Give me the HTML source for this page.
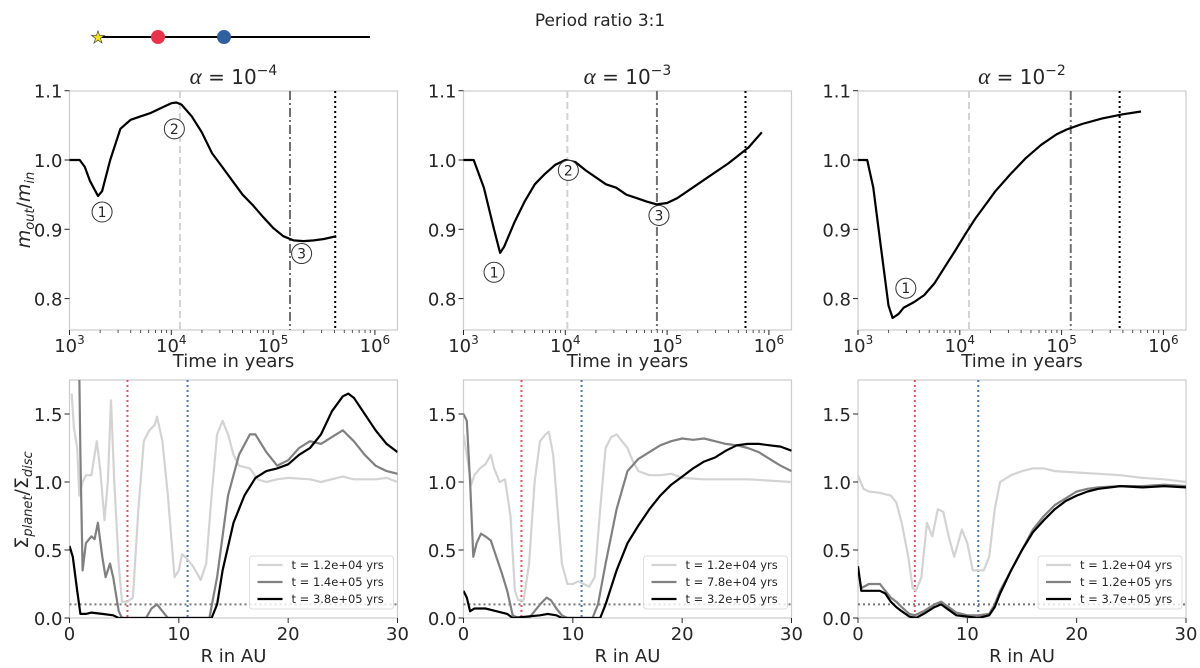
<!DOCTYPE html>
<html><head><meta charset="utf-8"><style>
body{margin:0;background:#fff;}
svg{display:block;font-family:"DejaVu Sans","Liberation Sans",sans-serif;}
</style></head><body>
<svg id="fig" width="1200" height="668" viewBox="0 0 1200 668" xmlns="http://www.w3.org/2000/svg">
<text x="600" y="26" text-anchor="middle" font-size="17" fill="#262626">Period ratio 3:1</text>
<g>
<line x1="100" y1="37" x2="370" y2="37" stroke="#000" stroke-width="2"/>
<text x="98" y="43" text-anchor="middle" font-size="17" fill="#f5e31c" stroke="#333" stroke-width="0.6">★</text>
<circle cx="158" cy="37" r="7" fill="#e8334a"/>
<circle cx="224" cy="37" r="7" fill="#2f5f9e"/>
</g>
</svg>
<script>
// ---- Top row data (log10 time, mass ratio) ----
const topLogT1=[3.0,3.1,3.15,3.2,3.28,3.32,3.4,3.5,3.6,3.7,3.8,3.9,4.0,4.05,4.1,4.2,4.3,4.4,4.5,4.6,4.7,4.8,4.9,5.0,5.1,5.2,5.3,5.4,5.5,5.62];
const topRatio1=[1.0,1.0,0.99,0.97,0.948,0.955,1.0,1.045,1.058,1.063,1.068,1.075,1.082,1.083,1.08,1.063,1.04,1.01,0.99,0.97,0.95,0.935,0.918,0.902,0.89,0.884,0.883,0.884,0.886,0.89];
const topLogT2=[3.0,3.1,3.2,3.3,3.36,3.4,3.5,3.6,3.7,3.8,3.9,4.0,4.1,4.2,4.3,4.4,4.5,4.6,4.7,4.8,4.9,5.0,5.1,5.2,5.4,5.6,5.8,5.93];
const topRatio2=[1.0,1.0,0.96,0.9,0.866,0.875,0.91,0.94,0.965,0.98,0.993,1.0,0.997,0.985,0.975,0.965,0.96,0.95,0.945,0.94,0.936,0.938,0.945,0.955,0.975,0.995,1.018,1.04];
const topLogT3=[3.0,3.09,3.15,3.22,3.3,3.34,3.4,3.45,3.55,3.65,3.75,3.85,3.95,4.05,4.15,4.25,4.35,4.5,4.65,4.8,4.95,5.05,5.2,5.4,5.6,5.78];
const topRatio3=[1.0,1.0,0.96,0.88,0.79,0.772,0.778,0.787,0.795,0.805,0.822,0.845,0.868,0.892,0.915,0.935,0.955,0.98,1.003,1.022,1.037,1.044,1.052,1.06,1.066,1.07];
const vlines1=[4.085,5.166,5.61];
const vlines2=[4.02,4.9,5.77];
const vlines3=[4.09,5.09,5.57];
const titles=["-4","-3","-2"];
// ---- Bottom row data (R in AU, surface density ratio) ----
const r1a=[0.2,0.4,0.7,0.9,1.2,1.5,2,2.5,2.8,3.2,3.5,3.8,4.1,4.5,4.8,5.3,5.8,6.3,6.8,7.3,7.8,8,8.5,9,9.6,10,10.3,10.8,11.3,12,12.5,13,13.5,14,14.5,15,15.5,16.5,17.2,18,19,20,22,23,25,26,28,29,30];
const s1a=[1.65,1.4,1.25,0.9,1.0,1.05,1.05,1.3,1.1,0.72,1.0,1.6,1.0,0.4,0.12,0.12,0.15,0.8,1.3,1.38,1.42,1.48,1.3,0.9,0.3,0.35,0.47,0.43,0.38,0.28,0.4,0.9,1.35,1.45,1.35,1.2,1.12,1.1,1.02,1.0,1.02,1.03,1.02,1.0,1.04,1.02,1.02,1.03,1.0];
const r1b=[0.9,1.0,1.2,1.5,2,2.3,2.6,3,3.3,3.7,4,4.5,4.8,7,7.5,8,8.5,9,12.8,13.5,14.5,15.5,16.5,17,18,19,20,21,22,23,24,25,26,27,28,29,30];
const s1b=[1.8,1.2,0.35,0.55,0.6,0.58,0.7,0.45,0.3,0.4,0.3,0.05,0,0,0.07,0.1,0.05,0,0,0.3,0.9,1.2,1.35,1.35,1.22,1.12,1.16,1.25,1.3,1.28,1.33,1.38,1.3,1.2,1.12,1.08,1.06];
const r1c=[0,0.3,0.7,1,1.5,2,3,4,4.5,13,13.5,14,15,16,17,18,19,20,21,22,23,24,25,25.5,26,27,28,29,30];
const s1c=[0.53,0.45,0.2,0.03,0.03,0.04,0.03,0.02,0,0,0.1,0.35,0.7,0.9,1.03,1.08,1.1,1.13,1.2,1.25,1.35,1.52,1.63,1.65,1.62,1.5,1.38,1.28,1.22];
const r2a=[0,0.3,0.7,1,1.5,2,2.5,2.8,3.3,3.8,4.3,4.7,5,5.5,6,6.5,7,7.5,7.8,8.2,8.7,9,9.5,10,10.5,11,11.5,12,12.5,13,13.5,14,14.5,15,15.5,16,17,18,19,20,22,24,26,28,30];
const s2a=[1.35,1.2,0.98,1.05,1.1,1.13,1.2,1.1,1.0,1.02,0.75,0.2,0.13,0.13,0.4,1.0,1.3,1.35,1.37,1.2,0.7,0.4,0.25,0.25,0.27,0.25,0.23,0.3,0.8,1.25,1.33,1.35,1.3,1.25,1.15,1.08,1.05,1.05,1.06,1.03,1.02,1.02,1.02,1.01,1.0];
const r2b=[0,0.3,0.6,0.9,1.2,1.6,2,2.5,3,3.5,4,4.5,5,6,6.5,7,7.6,8,8.5,9,9.5,11.8,12.3,13,14,15,16,17,18,19,20,21,22,23,24,25,26,27,28,29,30];
const s2b=[1.5,1.45,1.0,0.45,0.55,0.62,0.6,0.57,0.45,0.33,0.2,0.02,0,0,0.05,0.1,0.15,0.13,0.07,0.02,0,0,0.1,0.4,0.8,1.08,1.17,1.22,1.27,1.3,1.32,1.31,1.32,1.3,1.28,1.27,1.25,1.22,1.17,1.12,1.08];
const r2c=[0,0.3,0.6,1,2,3,4,4.5,7,7.7,8.5,9,12.5,13,14,15,16,17,18,19,20,21,22,23,24,25,26,27,28,29,30];
const s2c=[0.2,0.15,0.05,0.07,0.07,0.05,0.03,0,0.02,0.03,0.02,0,0,0.1,0.35,0.55,0.68,0.8,0.9,0.98,1.04,1.1,1.15,1.18,1.23,1.27,1.28,1.28,1.27,1.26,1.23];
const r3a=[0,0.5,1,2,3,3.5,4,4.6,5,5.3,5.8,6.3,6.8,7.3,7.8,8.3,8.8,9.5,10,10.5,11.5,12,12.5,13,14,15,16,17,18,20,22,24,26,28,30];
const s3a=[1.05,0.95,0.93,0.92,0.9,0.85,0.7,0.45,0.22,0.2,0.3,0.7,0.6,0.8,0.78,0.6,0.45,0.65,0.55,0.35,0.35,0.45,0.8,1.0,1.05,1.08,1.1,1.1,1.08,1.07,1.06,1.05,1.03,1.02,1.0];
const r3b=[0,0.3,1,2,2.5,3,3.5,4,4.7,5.2,6,7,7.6,8.3,9,10,11,12,12.5,13,14,15,16,17,18,19,20,21,22,24,26,28,30];
const s3b=[0.36,0.22,0.25,0.25,0.2,0.15,0.12,0.08,0.03,0.02,0.05,0.1,0.12,0.08,0.04,0.02,0.02,0.03,0.1,0.2,0.35,0.5,0.65,0.75,0.83,0.88,0.93,0.95,0.96,0.97,0.97,0.98,0.97];
const r3c=[0,0.3,1,2,2.5,3,3.5,4,4.7,5.3,6,7,7.6,8.3,9,10,11,12,12.5,13,14,15,16,17,18,19,20,21,22,24,26,28,30];
const s3c=[0.38,0.2,0.2,0.2,0.18,0.12,0.08,0.05,0.01,0.0,0.03,0.08,0.1,0.06,0.02,0.01,0.0,0.02,0.08,0.18,0.35,0.5,0.63,0.72,0.8,0.86,0.9,0.93,0.95,0.97,0.96,0.97,0.96];
const planetR1=[5.3,10.8], planetR2=[5.3,10.8], planetR3=[5.2,11.0];
const legend1=["t = 1.2e+04 yrs","t = 1.4e+05 yrs","t = 3.8e+05 yrs"];
const legend2=["t = 1.2e+04 yrs","t = 7.8e+04 yrs","t = 3.2e+05 yrs"];
const legend3=["t = 1.2e+04 yrs","t = 1.2e+05 yrs","t = 3.7e+05 yrs"];
const topTicks=[0.8,0.9,1.0,1.1];
const botTicks=[0,0.5,1.0,1.5];
const rTicks=[0,10,20,30];
const annos1=[[1,3.32,0.925],[2,4.03,1.045],[3,5.28,0.865]];
const annos2=[[1,3.3,0.838],[2,4.03,0.985],[3,4.92,0.92]];
const annos3=[[1,3.47,0.815]];

const NS="http://www.w3.org/2000/svg";
const svg=document.getElementById('fig');
function mk(tag,attrs,parent){const e=document.createElementNS(NS,tag);for(const k in attrs)e.setAttribute(k,attrs[k]);(parent||svg).appendChild(e);return e;}
const lefts=[69.5,463.5,858], W=328;
const TT=91, TB=330, BT=380, BB=618;
const tx=(i,l)=>lefts[i]+(l-3)*101.8;
const ty=v=>160-(v-1.0)*693;
const bx=(i,r)=>lefts[i]+r*W/30;
const by=v=>BB-v*136;
function pathD(xs,ys,fx,fy){return xs.map((x,k)=>(k?'L':'M')+fx(x).toFixed(1)+','+fy(ys[k]).toFixed(1)).join('');}
const colors=["#d3d3d3","#808080","#000000"];

const topData=[[topLogT1,topRatio1,vlines1,annos1],[topLogT2,topRatio2,vlines2,annos2],[topLogT3,topRatio3,vlines3,annos3]];
const botData=[[[r1a,s1a],[r1b,s1b],[r1c,s1c],planetR1,legend1],[[r2a,s2a],[r2b,s2b],[r2c,s2c],planetR2,legend2],[[r3a,s3a],[r3b,s3b],[r3c,s3c],planetR3,legend3]];

for(let i=0;i<3;i++){
  const L=lefts[i];
  const g=mk('g',{});
  
  
  const cid='ct'+i;
  const cp=mk('clipPath',{id:cid},g); mk('rect',{x:L,y:TT,width:W,height:TB-TT},cp);
  const fr=mk('rect',{x:L,y:TT,width:W,height:TB-TT,fill:'none',stroke:'#cccccc','stroke-width':1.2},g);
  
  
  const t=mk('text',{x:L+W/2,y:84,'text-anchor':'middle','font-size':20,fill:'#262626'},g);
  t.innerHTML='<tspan font-style="italic" font-family="Liberation Serif, serif" font-size="23">α</tspan> = 10<tspan dy="-9" font-size="14">'+titles[i].replace('-','−')+'</tspan>';
  
  
  topTicks.forEach(v=>{
    mk('line',{x1:L-5,x2:L,y1:ty(v),y2:ty(v),stroke:'#262626'},g);
    const tl=mk('text',{x:L-7,y:ty(v)+7,'text-anchor':'end','font-size':18,fill:'#262626'},g);
    tl.textContent=v.toFixed(1);
    
    
  });
  for(let d=3;d<=6;d++){
    mk('line',{x1:tx(i,d),x2:tx(i,d),y1:TB,y2:TB+5,stroke:'#262626'},g);
    const tl=mk('text',{x:tx(i,d),y:TB+22,'text-anchor':'middle','font-size':18,fill:'#262626'},g);
    tl.innerHTML='10<tspan dy="-8" font-size="12">'+d+'</tspan>';
    
    
    if(d<6)for(let m=2;m<10;m++){const xm=tx(i,d+Math.log10(m));mk('line',{x1:xm,x2:xm,y1:TB,y2:TB+3,stroke:'#262626','stroke-width':0.8},g);}
  }
  const xl=mk('text',{x:L+W/2,y:TB+37,'text-anchor':'middle','font-size':18,fill:'#262626'},g);
  xl.textContent='Time in years';
  
  
  const [lt,rv,vl,an]=topData[i];
  const styles=[{stroke:'#d3d3d3','stroke-dasharray':'7,4'},{stroke:'#707070','stroke-dasharray':'9,3,2,3'},{stroke:'#000','stroke-dasharray':'2,3'}];
  vl.forEach((v,k)=>{
    const ln=mk('line',Object.assign({x1:tx(i,v),x2:tx(i,v),y1:TT,y2:TB,'stroke-width':2},styles[k]),g);
    
    
  });
  const p=mk('path',{d:pathD(lt,rv,x=>tx(i,x),ty),fill:'none',stroke:'#000','stroke-width':2.2,'stroke-linejoin':'round','clip-path':'url(#'+cid+')'},g);
  
  
  an.forEach(a=>{
    const ag=mk('g',{},g);
    
    
    mk('circle',{cx:tx(i,a[1]),cy:ty(a[2]),r:10,fill:'#fff',stroke:'#333','stroke-width':1},ag);
    const at=mk('text',{x:tx(i,a[1]),y:ty(a[2])+5,'text-anchor':'middle','font-size':14,fill:'#262626'},ag);
    at.textContent=a[0];
  });
  const b=mk('g',{});
  
  
  const cid2='cb'+i;
  const cp2=mk('clipPath',{id:cid2},b); mk('rect',{x:L,y:BT,width:W,height:BB-BT},cp2);
  const fr2=mk('rect',{x:L,y:BT,width:W,height:BB-BT,fill:'none',stroke:'#cccccc','stroke-width':1.2},b);
  
  
  botTicks.forEach(v=>{
    mk('line',{x1:L-5,x2:L,y1:by(v),y2:by(v),stroke:'#262626'},b);
    const tl=mk('text',{x:L-7,y:by(v)+7,'text-anchor':'end','font-size':18,fill:'#262626'},b);
    tl.textContent=v.toFixed(1);
    
    
  });
  rTicks.forEach(v=>{
    mk('line',{x1:bx(i,v),x2:bx(i,v),y1:BB,y2:BB+5,stroke:'#262626'},b);
    const tl=mk('text',{x:bx(i,v),y:BB+22,'text-anchor':'middle','font-size':18,fill:'#262626'},b);
    tl.textContent=v;
    
    
  });
  const xl2=mk('text',{x:L+W/2,y:BB+44,'text-anchor':'middle','font-size':18,fill:'#262626'},b);
  xl2.textContent='R in AU';
  
  
  const bd=botData[i];
  const pr=bd[3];
  const red=mk('line',{x1:bx(i,pr[0]),x2:bx(i,pr[0]),y1:BT,y2:BB,stroke:'#e8505b','stroke-width':2,'stroke-dasharray':'2,3'},b);
  
  
  const blue=mk('line',{x1:bx(i,pr[1]),x2:bx(i,pr[1]),y1:BT,y2:BB,stroke:'#4a78b5','stroke-width':2,'stroke-dasharray':'2,3'},b);
  
  
  const th=mk('line',{x1:L,x2:L+W,y1:by(0.1),y2:by(0.1),stroke:'#777','stroke-width':2,'stroke-dasharray':'2,3'},b);
  
  
  for(let k=0;k<3;k++){
    const pl=mk('path',{d:pathD(bd[k][0],bd[k][1],x=>bx(i,x),by),fill:'none',stroke:colors[k],'stroke-width':2.2,'stroke-linejoin':'round','clip-path':'url(#'+cid2+')'},b);
    
    
  }
  const lg=mk('g',{},b);
  
  
  mk('rect',{x:L+180,y:556,width:W-184,height:53,rx:3,fill:'rgba(255,255,255,0.8)',stroke:'#ddd'},lg);
  bd[4].forEach((s,k)=>{
    const yy=565+k*17;
    const en=mk('g',{},lg);
    
    
    mk('line',{x1:L+188,x2:L+213,y1:yy,y2:yy,stroke:colors[k],'stroke-width':2.2},en);
    const et=mk('text',{x:L+222,y:yy+4,'font-size':11.5,fill:'#262626'},en);
    et.textContent=s;
  });
}
const yl1=mk('text',{x:0,y:0,'text-anchor':'middle','font-size':19,fill:'#262626',transform:'translate(30,210) rotate(-90)'});
yl1.innerHTML='<tspan font-style="italic">m</tspan><tspan font-style="italic" font-size="13" dy="4">out</tspan><tspan dy="-4">/</tspan><tspan font-style="italic">m</tspan><tspan font-style="italic" font-size="13" dy="4">in</tspan>';


const yl2=mk('text',{x:0,y:0,'text-anchor':'middle','font-size':19,fill:'#262626',transform:'translate(28,500) rotate(-90)'});
yl2.innerHTML='Σ<tspan font-style="italic" font-size="13" dy="4">planet</tspan><tspan dy="-4">/Σ</tspan><tspan font-style="italic" font-size="13" dy="4">disc</tspan>';


</script>
</body></html>
